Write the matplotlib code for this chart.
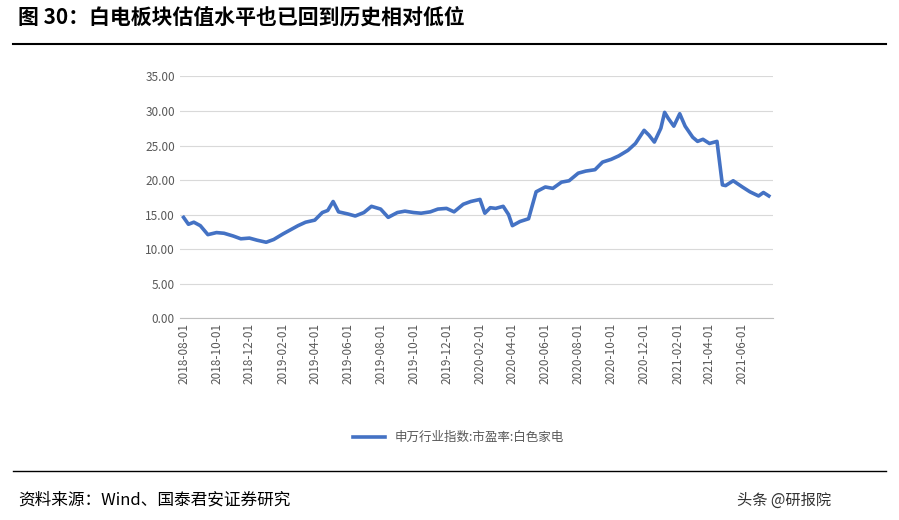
import matplotlib.pyplot as plt
import matplotlib.dates as mdates
import pandas as pd

plt.rcParams['font.family'] = ['Noto Sans CJK SC', 'DejaVu Sans']

# 申万行业指数:市盈率:白色家电
dates = ['2018-08-01', '2018-08-10', '2018-08-20', '2018-09-01', '2018-09-15', '2018-10-01', '2018-10-15',
         '2018-11-01', '2018-11-15', '2018-12-01', '2018-12-15', '2019-01-01', '2019-01-15',
         '2019-02-01', '2019-02-15', '2019-03-01', '2019-03-15', '2019-04-01', '2019-04-15',
         '2019-04-25', '2019-05-05', '2019-05-15', '2019-06-01', '2019-06-15', '2019-07-01',
         '2019-07-15', '2019-08-01', '2019-08-15', '2019-09-01', '2019-09-15', '2019-10-01',
         '2019-10-15', '2019-11-01', '2019-11-15', '2019-12-01', '2019-12-15', '2020-01-01',
         '2020-01-15', '2020-02-01', '2020-02-10', '2020-02-20', '2020-03-01', '2020-03-15',
         '2020-03-25', '2020-04-01', '2020-04-15', '2020-05-01', '2020-05-15', '2020-06-01',
         '2020-06-15', '2020-07-01', '2020-07-15', '2020-08-01', '2020-08-15', '2020-09-01',
         '2020-09-15', '2020-10-01', '2020-10-15', '2020-11-01', '2020-11-15', '2020-12-01',
         '2020-12-10', '2020-12-20', '2021-01-01', '2021-01-08', '2021-01-15', '2021-01-25',
         '2021-02-05', '2021-02-15', '2021-03-01', '2021-03-10', '2021-03-20', '2021-04-01',
         '2021-04-15', '2021-04-25', '2021-05-01', '2021-05-15', '2021-06-01', '2021-06-15',
         '2021-07-01', '2021-07-10', '2021-07-20']
pe = [14.6, 13.6, 13.9, 13.4, 12.1, 12.4, 12.3,
      11.9, 11.5, 11.6, 11.3, 11.0, 11.4,
      12.2, 12.8, 13.4, 13.9, 14.2, 15.3,
      15.6, 16.9, 15.4, 15.1, 14.8, 15.3,
      16.2, 15.8, 14.6, 15.3, 15.5, 15.3,
      15.2, 15.4, 15.8, 15.9, 15.4, 16.5,
      16.9, 17.2, 15.2, 16.0, 15.9, 16.2,
      15.0, 13.4, 14.0, 14.4, 18.3, 19.0,
      18.8, 19.7, 19.9, 21.0, 21.3, 21.5,
      22.6, 23.0, 23.5, 24.3, 25.3, 27.2,
      26.5, 25.5, 27.5, 29.8, 28.9, 27.8,
      29.6, 27.8, 26.2, 25.6, 25.9, 25.3,
      25.6, 19.3, 19.2, 19.9, 19.0, 18.3,
      17.7, 18.2, 17.7]

fig = plt.figure(figsize=(8.99, 5.2), dpi=100)
ax = fig.add_axes([0.2, 0.388, 0.66, 0.465])
ax.plot(pd.to_datetime(dates), pe, color='#4472C4', lw=2.6,
        label='申万行业指数:市盈率:白色家电')
ax.set_ylim(0, 35)
ax.set_yticks(range(0, 36, 5))
ax.set_yticklabels([f'{v:.2f}' for v in range(0, 36, 5)])
ax.set_xlim(pd.Timestamp('2018-07-25'), pd.Timestamp('2021-07-28'))
ax.xaxis.set_major_locator(mdates.MonthLocator(bymonth=[2, 4, 6, 8, 10, 12]))
ax.xaxis.set_major_formatter(mdates.DateFormatter('%Y-%m-%d'))
plt.setp(ax.get_xticklabels(), rotation=90)
ax.tick_params(labelsize=8.5, colors='#595959', length=0)
ax.grid(axis='y', color='#d9d9d9', lw=0.8)
for s in ['top', 'right', 'left']:
    ax.spines[s].set_visible(False)
ax.spines['bottom'].set_color('#bfbfbf')
ax.legend(loc='upper center', bbox_to_anchor=(0.47, -0.42), frameon=False, fontsize=9,
          labelcolor='#595959', handlelength=2.5)

fig.text(0.02, 0.955, '图 30：白电板块估值水平也已回到历史相对低位', fontsize=15, weight='bold')
fig.add_artist(plt.Line2D([0.015, 0.985], [0.915, 0.915], color='black', lw=1.5))
fig.add_artist(plt.Line2D([0.015, 0.985], [0.095, 0.095], color='black', lw=1))
fig.text(0.02, 0.03, '资料来源：Wind、国泰君安证券研究', fontsize=12)
fig.text(0.82, 0.03, '头条 @研报院', fontsize=11, color='#333333')

plt.savefig('out.png')
